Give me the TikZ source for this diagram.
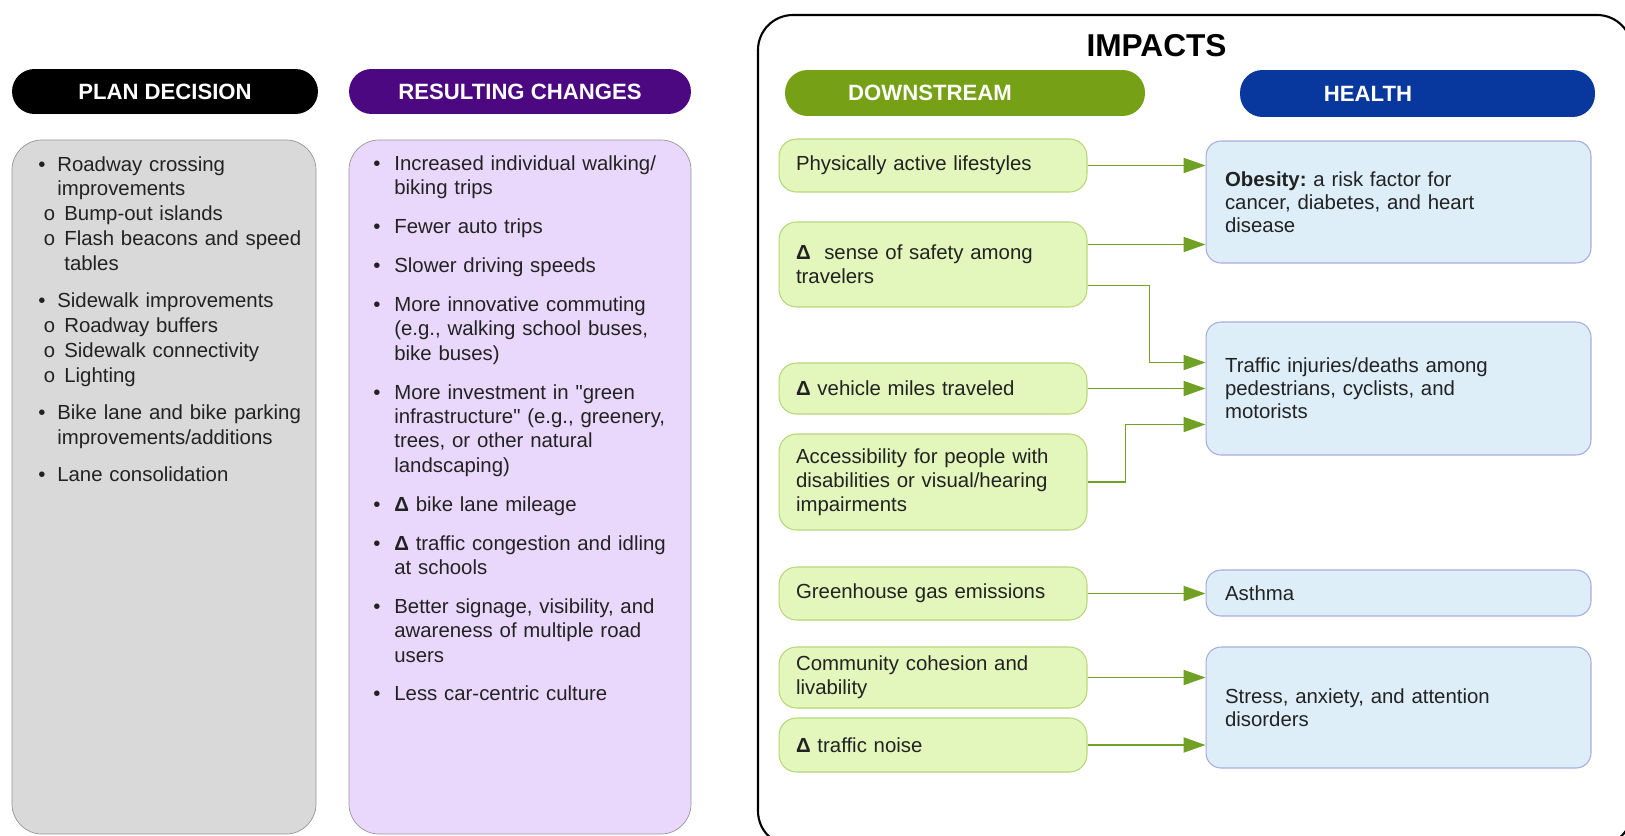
\documentclass[tikz,border=0pt]{standalone}
\usepackage{fontspec}
\setmainfont{Liberation Sans}[Ligatures=TeXOff]
\newfontfamily\monofam{Liberation Mono}
\usetikzlibrary{arrows.meta}
\definecolor{chgpurple}{RGB}{75,8,128}
\definecolor{dsgreen}{RGB}{118,161,22}
\definecolor{hlthblue}{RGB}{8,56,158}
\definecolor{grayfill}{RGB}{217,217,217}
\definecolor{grayline}{RGB}{150,150,150}
\definecolor{lavfill}{RGB}{234,216,252}
\definecolor{greenfill}{RGB}{227,246,187}
\definecolor{greenline}{RGB}{183,215,122}
\definecolor{bluefill}{RGB}{221,238,249}
\definecolor{blueline}{RGB}{168,172,220}
\definecolor{linkgreen}{RGB}{112,160,36}
\definecolor{txt}{RGB}{34,34,34}
% list items with hanging indent
\newcommand\firstitem[1]{\noindent\hangindent=\bulwd\hangafter=1\hbox to\bulwd{\textbullet\hfil}#1}
\newcommand\bitem[1]{\par\vspace{\itemgap}\firstitem{#1}}
\newcommand\sitem[1]{\par\noindent\hangindent=\subwd\hangafter=1\hbox to\subwd{\hskip\subpre{\monofam o}\hfil}#1}
\begin{document}
\frenchspacing
\begin{tikzpicture}[x=0.02cm, y=-0.02cm, >={Triangle[length=0.44cm,width=0.3cm]},
  pill/.style={rounded corners=0.45cm, minimum height=0.9cm, text=white, font=\bfseries\fontsize{12.6}{15}\selectfont},
  headtext/.style={text=white, font=\bfseries\fontsize{12.6}{15}\selectfont},
  listtext/.style={text width=6.4cm, align=left, inner sep=0pt, anchor=base west, text=txt, font=\fontsize{11.6}{13.9}\selectfont},
  dsbox/.style={draw=greenline, fill=greenfill, line width=0.6pt, rounded corners=0.35cm, text width=5.48cm, inner xsep=0.34cm, align=left, text=txt, font=\fontsize{11.6}{13.7}\selectfont},
  hbox/.style={draw=blueline, fill=bluefill, line width=0.6pt, rounded corners=0.3cm, text width=6.94cm, inner xsep=0.38cm, align=left, text=txt, font=\fontsize{11.6}{13.2}\selectfont},
  link/.style={draw=linkgreen, line width=1.1pt, ->}]
\useasboundingbox (0,0) rectangle (1625,835);

% left columns
\node[pill, fill=black, minimum width=6.12cm] (planhead) at (165,91.5) {PLAN DECISION};
\node[pill, fill=chgpurple, minimum width=6.84cm] (chghead) at (520,91.5) {RESULTING CHANGES};
\draw[draw=grayline, fill=grayfill, rounded corners=0.6cm] (12,140) rectangle (316,834);
\draw[draw=grayline, fill=lavfill, rounded corners=0.6cm] (349,140) rectangle (691,834);

\node[listtext, font=\fontsize{11.6}{14.1}\selectfont] (plantext) at (38,171) {\def\bulwd{0.38cm}\def\subwd{0.52cm}\def\subpre{0.1cm}\def\itemgap{7.3pt}%
\firstitem{Roadway crossing\newline improvements}
\sitem{Bump-out islands}
\sitem{Flash beacons and speed\newline tables}
\bitem{Sidewalk improvements}
\sitem{Roadway buffers}
\sitem{Sidewalk connectivity}
\sitem{Lighting}
\bitem{Bike lane and bike parking\newline improvements/additions}
\bitem{Lane consolidation}};

\node[listtext] (chgtext) at (373,170.5) {\def\bulwd{0.42cm}\def\itemgap{8.2pt}%
\firstitem{Increased individual walking/\newline biking trips}
\bitem{Fewer auto trips}
\bitem{Slower driving speeds}
\bitem{More innovative commuting\newline (e.g., walking school buses,\newline bike buses)}
\bitem{More investment in "green\newline infrastructure" (e.g., greenery,\newline trees, or other natural\newline landscaping)}
\bitem{\textbf{Δ} bike lane mileage}
\bitem{\textbf{Δ} traffic congestion and idling\newline at schools}
\bitem{Better signage, visibility, and\newline awareness of multiple road\newline users}
\bitem{Less car-centric culture}};

% impacts frame
\draw[line width=1.2pt, rounded corners=0.7cm] (758,15) rectangle (1632,846);
\node[font=\bfseries\fontsize{18}{21}\selectfont] (impacts) at (1156.5,46) {IMPACTS};
\node[pill, fill=dsgreen, minimum width=7.2cm, minimum height=0.92cm] (dshead) at (965,93) {};
\node[headtext] at ([shift={(-35,0)}]dshead.center) {DOWNSTREAM};
\node[pill, fill=hlthblue, minimum width=7.1cm, minimum height=0.94cm] (hhead) at (1417.5,93.5) {};
\node[headtext] at ([shift={(-49.5,0)}]hhead.center) {HEALTH};

% downstream
\node[dsbox, minimum height=1.06cm] (pa) at (933,165.5) {Physically active lifestyles};
\node[dsbox, minimum height=1.7cm] (safety) at (933,264.5) {\textbf{Δ}~ sense of safety among\\travelers};
\node[dsbox, minimum height=1.02cm] (vmt) at (933,388.5) {\textbf{Δ} vehicle miles traveled};
\node[dsbox, minimum height=1.92cm] (access) at (933,482) {Accessibility for people with\\disabilities or visual/hearing\\impairments};
\node[dsbox, minimum height=1.06cm] (ghg) at (933,593.5) {Greenhouse gas emissions};
\node[dsbox, minimum height=1.22cm] (cohesion) at (933,677.5) {Community cohesion and\\livability};
\node[dsbox, minimum height=1.08cm] (noise) at (933,745) {\textbf{Δ} traffic noise};

% health
\node[hbox, minimum height=2.44cm] (obesity) at (1398.5,202) {\textbf{Obesity:} a risk factor for\\cancer, diabetes, and heart\\disease};
\node[hbox, minimum height=2.66cm] (injury) at (1398.5,388.5) {Traffic injuries/deaths among\\pedestrians, cyclists, and\\motorists};
\node[hbox, minimum height=0.92cm] (asthma) at (1398.5,593) {Asthma};
\node[hbox, minimum height=2.42cm] (stress) at (1398.5,707.5) {Stress, anxiety, and attention\\disorders};

% links
\draw[link] (pa.east) -- (pa.east -| obesity.west);
\draw[link] ([shift={(0,-20)}]safety.east) coordinate (s1) -- (s1 -| obesity.west);
\draw[link] ([shift={(0,21)}]safety.east) -- ++(62,0) |- ([shift={(0,-26)}]injury.west);
\draw[link] (vmt.east) -- (vmt.east -| injury.west);
\draw[link] (access.east) -- ++(38,0) |- ([shift={(0,36)}]injury.west);
\draw[link] (ghg.east) -- (ghg.east -| asthma.west);
\draw[link] (cohesion.east) -- (cohesion.east -| stress.west);
\draw[link] (noise.east) -- (noise.east -| stress.west);
\end{tikzpicture}
\end{document}
